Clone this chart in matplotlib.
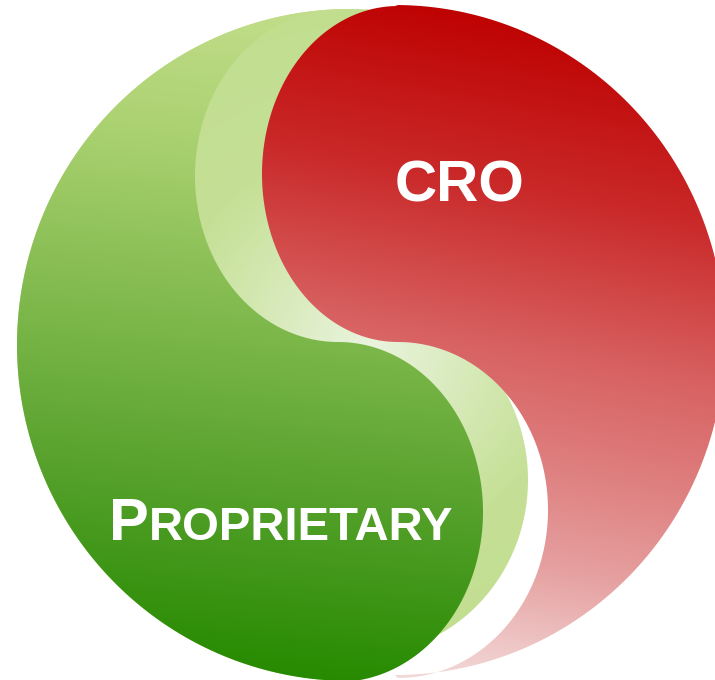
import numpy as np
import matplotlib
matplotlib.use("Agg")
import matplotlib.pyplot as plt
from matplotlib.path import Path
from matplotlib.patches import PathPatch

# ---- content ----
labels = ["CRO", "PROPRIETARY"]
red_stops_pos = [0, 180, 340, 450, 550, 650, 700]
red_stops_col = [(190, 0, 0), (202, 42, 42), (216, 98, 98), (223, 128, 128),
                 (230, 160, 160), (240, 205, 205), (245, 222, 222)]
green_stops_pos = [0, 150, 340, 500, 680]
green_stops_col = [(196, 222, 140), (170, 209, 112), (124, 183, 74),
                   (84, 160, 42), (38, 138, 0)]
light_stops_pos = [0, 200, 400]
light_stops_col = [(234, 244, 222), (197, 224, 150), (192, 221, 140)]

W, H = 715, 680
fig = plt.figure(figsize=(W / 100, H / 100), dpi=100)
ax = fig.add_axes([0, 0, 1, 1])
ax.set_xlim(0, W)
ax.set_ylim(H, 0)
ax.axis("off")


def ell(cx, cy, rx, ry, a0, a1, n=160):
    a = np.radians(np.linspace(a0, a1, n))
    return np.column_stack([cx + rx * np.cos(a), cy - ry * np.sin(a)])


yy, xx = np.mgrid[0:H, 0:W] + 0.5


def ramp(s, pos, cols):
    cols = np.array(cols, float) / 255.0
    out = np.zeros(s.shape + (3,))
    for c in range(3):
        out[..., c] = np.interp(s, pos, cols[:, c])
    return out


def layer(verts, img):
    path = Path(np.vstack([verts, verts[:1]]), closed=True)
    patch = PathPatch(path, facecolor="none", edgecolor="none", transform=ax.transData)
    ax.add_patch(patch)
    im = ax.imshow(img, extent=(0, W, H, 0), origin="upper", interpolation="bilinear", zorder=1)
    im.set_clip_path(patch)


# light green layer (back)
light_verts = np.vstack([
    ell(350, 345, 333, 336, 76, 270),
    ell(360, 480, 168, 175, -90, 90),
    [[430, 200]],
])
d = np.hypot(xx - 370, yy - 345)
layer(light_verts, ramp(d, light_stops_pos, light_stops_col))

# red layer
red_verts = np.vstack([
    ell(395, 340, 330, 335, 90, -90),
    ell(398, 510, 150, 168, -90, 90),
    ell(398, 174, 136, 168, 270, 90),
])
s_red = yy - 0.18 * (xx - 450)
layer(red_verts, ramp(s_red, red_stops_pos, red_stops_col))

# dark green layer (front)
green_verts = np.vstack([
    ell(350, 345, 333, 336, 90, 270),
    ell(338, 512, 145, 170, -90, 90),
    ell(338, 176, 143, 166, 270, 90),
])
s_g = yy - 0.1 * (xx - 300)
layer(green_verts, ramp(s_g, green_stops_pos, green_stops_col))

ax.set_xlim(0, W)
ax.set_ylim(H, 0)

font = dict(family=["Liberation Sans", "DejaVu Sans"], weight="bold", color="white", zorder=5)
ax.text(460, 202, labels[0], fontsize=42, ha="center", va="baseline", **font)

first = labels[1][0]
rest = labels[1][1:]
t1 = ax.text(109, 540, first, fontsize=43, ha="left", va="baseline", **font)
fig.canvas.draw()
bb = t1.get_window_extent()
x_end = ax.transData.inverted().transform((bb.x1, bb.y0))[0]
ax.text(x_end, 540, rest, fontsize=34, ha="left", va="baseline", **font)

fig.savefig("out.png", dpi=100, facecolor="white")
